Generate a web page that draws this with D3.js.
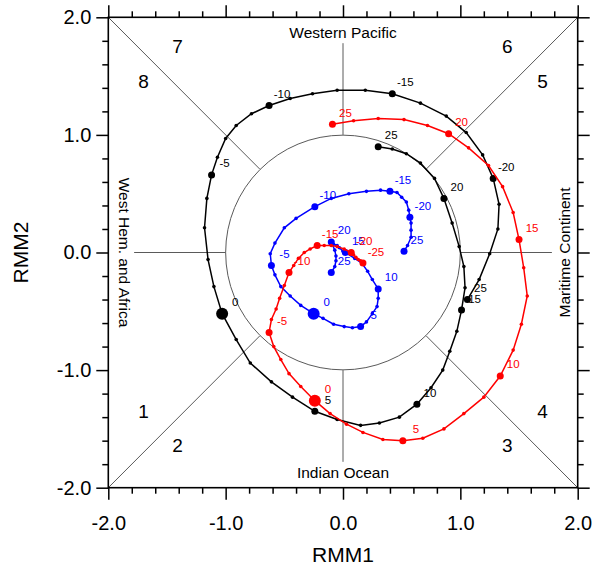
<html>
<head>
<script src="https://d3js.org/d3.v7.min.js"></script>
<style>
    body { margin: 0; background: #fff; }
    text { font-family: "Liberation Sans", Arial, Helvetica, sans-serif; }
</style>
</head>
<body>
<svg id="rmm" width="594" height="568"></svg>
<script>
// day numbers along each track
const days = [-25,-24,-23,-22,-21,-20,-19,-18,-17,-16,-15,-14,-13,-12,-11,-10,-9,-8,-7,-6,-5,-4,-3,-2,-1,
              0,1,2,3,4,5,6,7,8,9,10,11,12,13,14,15,16,17,18,19,20,21,22,23,24,25];

const blackRMM1 = [1.06,1.16,1.25,1.32,1.33,1.28,1.19,1.05,0.88,0.66,0.42,0.19,-0.05,-0.26,-0.45,-0.63,-0.78,-0.91,-1.00,-1.07,-1.12,
                   -1.16,-1.18,-1.15,-1.10,-1.03,-0.91,-0.79,-0.61,-0.43,-0.24,-0.05,0.15,0.31,0.48,0.63,0.75,0.85,0.91,0.97,1.01,
                   1.04,1.03,0.99,0.93,0.86,0.78,0.66,0.54,0.42,0.30];
const blackRMM2 = [-0.40,-0.23,-0.01,0.20,0.41,0.63,0.83,1.02,1.16,1.27,1.35,1.38,1.38,1.35,1.31,1.25,1.18,1.08,0.97,0.81,0.66,
                   0.46,0.21,-0.06,-0.29,-0.52,-0.74,-0.94,-1.10,-1.23,-1.35,-1.42,-1.47,-1.45,-1.40,-1.29,-1.15,-1.00,-0.84,-0.67,-0.49,
                   -0.30,-0.12,0.05,0.25,0.46,0.63,0.76,0.84,0.88,0.90];

const redRMM1 = [0.17,0.15,0.13,0.11,0.09,0.07,0.01,-0.05,-0.10,-0.16,-0.22,-0.28,-0.33,-0.38,-0.42,-0.46,-0.50,-0.54,-0.57,-0.61,-0.63,
                 -0.59,-0.53,-0.46,-0.36,-0.24,-0.11,0.03,0.17,0.34,0.51,0.68,0.86,1.03,1.20,1.34,1.45,1.52,1.57,1.54,1.50,
                 1.45,1.36,1.24,1.07,0.90,0.72,0.52,0.30,0.09,-0.09];
const redRMM2 = [-0.09,-0.07,-0.06,-0.04,-0.02,0.00,0.03,0.05,0.06,0.06,0.06,0.03,0.00,-0.05,-0.11,-0.17,-0.28,-0.39,-0.48,-0.57,-0.68,
                 -0.80,-0.91,-1.03,-1.14,-1.26,-1.37,-1.46,-1.53,-1.59,-1.60,-1.58,-1.50,-1.37,-1.23,-1.05,-0.83,-0.61,-0.37,-0.13,0.11,
                 0.34,0.56,0.74,0.89,1.01,1.08,1.13,1.14,1.12,1.09];

const blueRMM1 = [0.52,0.55,0.58,0.58,0.58,0.57,0.56,0.54,0.50,0.46,0.40,0.32,0.20,0.05,-0.10,-0.24,-0.40,-0.50,-0.58,-0.62,-0.61,
                  -0.58,-0.53,-0.45,-0.36,-0.25,-0.17,-0.08,0.01,0.08,0.15,0.20,0.25,0.29,0.30,0.30,0.25,0.21,0.16,0.10,0.02,
                  0.00,-0.03,-0.05,-0.08,-0.10,-0.07,-0.06,-0.06,-0.07,-0.10];
const blueRMM2 = [0.01,0.06,0.13,0.19,0.25,0.30,0.36,0.43,0.47,0.51,0.52,0.53,0.52,0.50,0.46,0.39,0.29,0.21,0.08,-0.01,-0.11,
                  -0.19,-0.29,-0.37,-0.45,-0.52,-0.56,-0.61,-0.63,-0.64,-0.63,-0.59,-0.52,-0.46,-0.39,-0.31,-0.23,-0.16,-0.09,-0.05,0.00,
                  0.01,0.04,0.06,0.07,0.09,0.02,-0.03,-0.07,-0.12,-0.17];

// labels written next to every fifth day, as printed on the chart
const blackLabels = ["25","-20","-15","-10","-5","0","5","10","15","20","25"];
const redLabels   = ["-25","-20","-15","-10","-5","0","5","10","15","20","25"];
const blueLabels  = ["25","-20","-15","-10","-5","0","5","10","15","20","25"];

const majorTicks = [-2, -1, 0, 1, 2];
const minorTicks = [-1.8,-1.6,-1.4,-1.2,-0.8,-0.6,-0.4,-0.2,0.2,0.4,0.6,0.8,1.2,1.4,1.6,1.8];
const phaseNames = ["1","2","3","4","5","6","7","8"];

const svg = d3.select('svg#rmm');
const plotLeft = 108.3, plotRight = 577.7, plotTop = 17.3, plotBottom = 487.7;
const x = d3.scaleLinear().domain([-2, 2]).range([plotLeft, plotRight]);
const y = d3.scaleLinear().domain([-2, 2]).range([plotBottom, plotTop]);

// phase diagram background
const guide = svg.append('g')
    .attr('stroke', '#5a5a5a')
    .attr('stroke-width', 1)
    .attr('fill', 'none');

guide.append('circle')
    .attr('cx', x(0)).attr('cy', y(0))
    .attr('r', x(1) - x(0));

const c = Math.SQRT1_2;
[[-1, 1], [1, 1], [-1, -1], [1, -1]].forEach(s => {
    guide.append('line')
        .attr('x1', x(s[0] * c)).attr('y1', y(s[1] * c))
        .attr('x2', x(s[0] * 2)).attr('y2', y(s[1] * 2));
});
[[0, 1], [0, -1], [1, 0], [-1, 0]].forEach(s => {
    guide.append('line')
        .attr('x1', x(s[0])).attr('y1', y(s[1]))
        .attr('x2', x(s[0] * 1.78)).attr('y2', y(s[1] * 1.78));
});

// phase numbers
const phasePos = [[-1.70, -1.35], [-1.41, -1.64], [1.40, -1.64], [1.70, -1.35],
                  [1.70, 1.45], [1.40, 1.75], [-1.41, 1.75], [-1.70, 1.45]];
svg.append('g').selectAll('text').data(phaseNames)
    .join('text')
    .attr('x', (d, i) => x(phasePos[i][0]))
    .attr('y', (d, i) => y(phasePos[i][1]))
    .attr('text-anchor', 'middle')
    .attr('dominant-baseline', 'central')
    .attr('font-size', 19)
    .text(d => d);

// region names
svg.append('text')
    .attr('x', x(0)).attr('y', y(1.87))
    .attr('text-anchor', 'middle').attr('dominant-baseline', 'central')
    .attr('font-size', 15.5)
    .text('Western Pacific');
svg.append('text')
    .attr('x', x(0)).attr('y', y(-1.87))
    .attr('text-anchor', 'middle').attr('dominant-baseline', 'central')
    .attr('font-size', 15.5)
    .text('Indian Ocean');
svg.append('text')
    .attr('transform', `translate(${x(-1.86)},${y(0)}) rotate(90)`)
    .attr('text-anchor', 'middle').attr('dominant-baseline', 'central')
    .attr('font-size', 15.5)
    .text('West Hem. and Africa');
svg.append('text')
    .attr('transform', `translate(${x(1.89)},${y(0)}) rotate(-90)`)
    .attr('text-anchor', 'middle').attr('dominant-baseline', 'central')
    .attr('font-size', 15.5)
    .text('Maritime Continent');

// tracks
function drawTrack(r1, r2, labels, color) {
    const pts = days.map((d, i) => ({ day: d, r1: r1[i], r2: r2[i] }));
    const g = svg.append('g');
    g.append('path')
        .datum(pts)
        .attr('fill', 'none')
        .attr('stroke', color)
        .attr('stroke-width', 1.5)
        .attr('d', d3.line().x(d => x(d.r1)).y(d => y(d.r2)));
    g.selectAll('circle').data(pts)
        .join('circle')
        .attr('cx', d => x(d.r1))
        .attr('cy', d => y(d.r2))
        .attr('r', d => d.day === 0 ? 6 : (d.day % 5 === 0 ? 3.5 : 1.8))
        .attr('fill', color);
    const marked = pts.filter(d => d.day % 5 === 0);
    g.selectAll('text').data(marked)
        .join('text')
        .attr('x', d => x(d.r1) + 13)
        .attr('y', d => y(d.r2) - 11.5)
        .attr('text-anchor', 'middle')
        .attr('dominant-baseline', 'central')
        .attr('font-size', 11.5)
        .attr('fill', color)
        .text((d, i) => labels[i]);
}
drawTrack(blackRMM1, blackRMM2, blackLabels, 'black');
drawTrack(blueRMM1, blueRMM2, blueLabels, 'blue');
drawTrack(redRMM1, redRMM2, redLabels, 'red');

// axes on all four sides, ticks pointing outward
function addAxis(axisFn, scale, pos, labelled) {
    const major = axisFn(scale).tickValues(majorTicks).tickSize(12).tickSizeOuter(0)
        .tickFormat(labelled ? (d => d.toFixed(1)) : '');
    const minor = axisFn(scale).tickValues(minorTicks).tickSize(6).tickSizeOuter(0).tickFormat('');
    if (axisFn === d3.axisBottom) major.tickPadding(16);
    if (axisFn === d3.axisLeft) major.tickPadding(5);
    const gm = svg.append('g').attr('transform', pos).call(major);
    const gn = svg.append('g').attr('transform', pos).call(minor);
    [gm, gn].forEach(g => {
        g.selectAll('.domain').remove();
        g.selectAll('line').attr('stroke', 'black').attr('stroke-width', 1.5);
    });
    gm.selectAll('text')
        .attr('font-size', 20)
        .attr('font-family', '"Liberation Sans", Arial, sans-serif')
        .attr('fill', 'black');
}
addAxis(d3.axisBottom, x, `translate(0,${plotBottom})`, true);
addAxis(d3.axisTop, x, `translate(0,${plotTop})`, false);
addAxis(d3.axisLeft, y, `translate(${plotLeft},0)`, true);
addAxis(d3.axisRight, y, `translate(${plotRight},0)`, false);

svg.append('rect')
    .attr('x', plotLeft).attr('y', plotTop)
    .attr('width', plotRight - plotLeft).attr('height', plotBottom - plotTop)
    .attr('fill', 'none')
    .attr('stroke', 'black')
    .attr('stroke-width', 1.6);

// axis titles
svg.append('text')
    .attr('x', x(0)).attr('y', 562)
    .attr('text-anchor', 'middle')
    .attr('font-size', 21)
    .text('RMM1');
svg.append('text')
    .attr('transform', `translate(20,${y(0)}) rotate(-90)`)
    .attr('text-anchor', 'middle')
    .attr('dominant-baseline', 'central')
    .attr('font-size', 21)
    .text('RMM2');
</script>
</body>
</html>
